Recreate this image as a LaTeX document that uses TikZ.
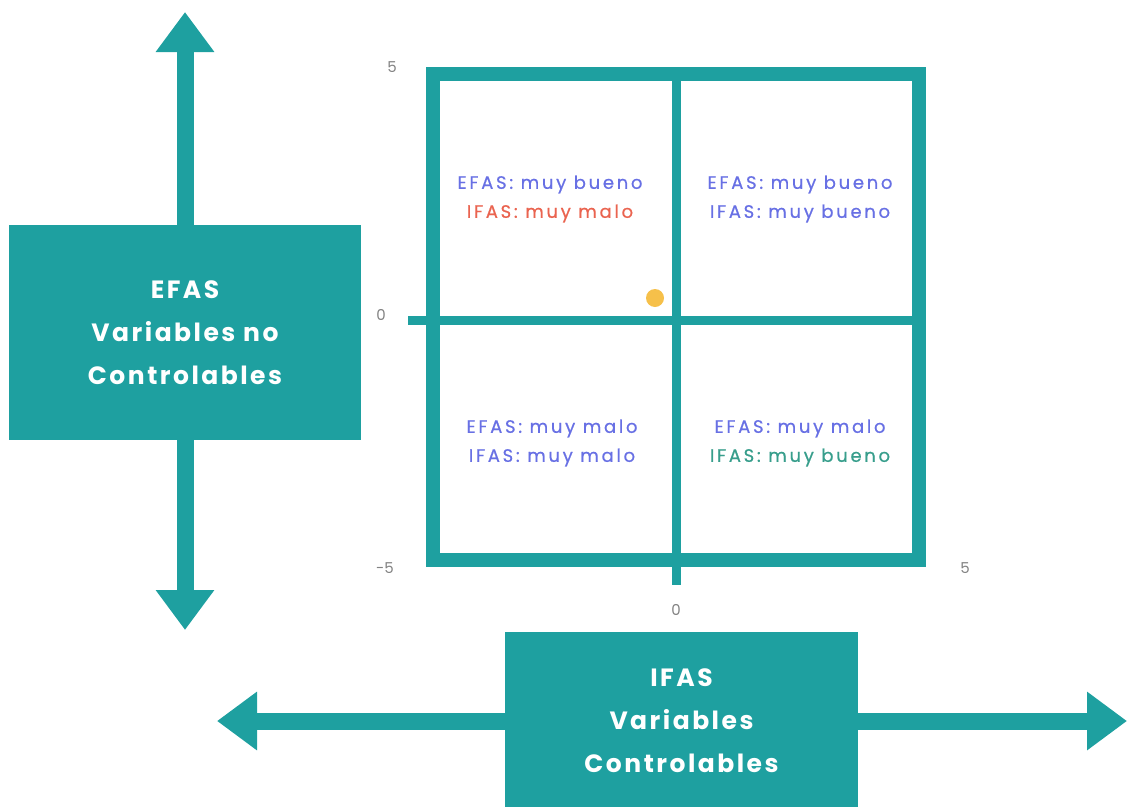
\documentclass[tikz,border=0pt]{standalone}
\usepackage{fontspec}
\setmainfont{Poppins}
\newfontfamily\quadfont[LetterSpace=15,FakeBold=0.6]{Poppins}
\newfontfamily\boxfont[LetterSpace=10]{Poppins}
\usetikzlibrary{arrows.meta}
\definecolor{mainteal}{RGB}{30,160,160}
\definecolor{txtblue}{RGB}{104,112,228}
\definecolor{txtred}{RGB}{234,100,80}
\definecolor{txtgreen}{RGB}{56,158,140}
\definecolor{axisgray}{RGB}{130,130,130}
\definecolor{dotyellow}{RGB}{246,192,74}
\tikzset{
    varbox/.style={fill=mainteal, text=white, font=\boxfont\bfseries\fontsize{25}{43}\selectfont, align=center, inner sep=0pt},
    bigarrow/.style={mainteal, line width=17pt, -{Triangle[width=56pt,length=40pt]}},
    quadtext/.style={font=\quadfont\fontsize{18}{29}\selectfont, align=center, inner sep=0pt},
    axislabel/.style={axisgray, font=\fontsize{15}{18}\selectfont, inner sep=0pt}
}
\begin{document}
\begin{tikzpicture}[x=1pt, y=-1pt]
    \useasboundingbox (0,0) rectangle (1129,806);
    % grid
    \draw[mainteal, line width=14pt] (433,74) rectangle (919,560);
    \draw[mainteal, line width=9pt] (676,74) -- (676,585);
    \draw[mainteal, line width=9pt] (408,320) -- (919,320);
    % axis values
    \node[axislabel] (ytop) at (392,67) {5};
    \node[axislabel] (ymid) at (381,315) {0};
    \node[axislabel] (ybot) at (385,568) {-5};
    \node[axislabel] (xright) at (965,568) {5};
    \node[axislabel] (xmid) at (676,610) {0};
    % quadrants
    \node[quadtext] (qtl) at (550,199) {\textcolor{txtblue}{EFAS: muy bueno}\\ \textcolor{txtred}{IFAS: muy malo}};
    \node[quadtext] (qtr) at (800,199) {\textcolor{txtblue}{EFAS: muy bueno}\\ \textcolor{txtblue}{IFAS: muy bueno}};
    \node[quadtext] (qbl) at (552,443) {\textcolor{txtblue}{EFAS: muy malo}\\ \textcolor{txtblue}{IFAS: muy malo}};
    \node[quadtext] (qbr) at (800,443) {\textcolor{txtblue}{EFAS: muy malo}\\ \textcolor{txtgreen}{IFAS: muy bueno}};
    \fill[dotyellow] (655,298) circle (9pt);
    % boxes
    \node[varbox, minimum width=352pt, minimum height=215pt] (efas) at (185,332.5) {EFAS\\ Variables no\\ Controlables};
    \node[varbox, minimum width=353pt, minimum height=178pt] (ifas) at (681.5,721) {IFAS\\ Variables\\ Controlables};
    \coordinate (etop) at (185,12);
    \coordinate (ebot) at (185,630);
    \coordinate (ileft) at (217,721);
    \coordinate (iright) at (1127,721);
    \draw[bigarrow] (efas.north) -- (etop);
    \draw[bigarrow] (efas.south) -- (ebot);
    \draw[bigarrow] (ifas.west) -- (ileft);
    \draw[bigarrow] (ifas.east) -- (iright);
\end{tikzpicture}
\end{document}
